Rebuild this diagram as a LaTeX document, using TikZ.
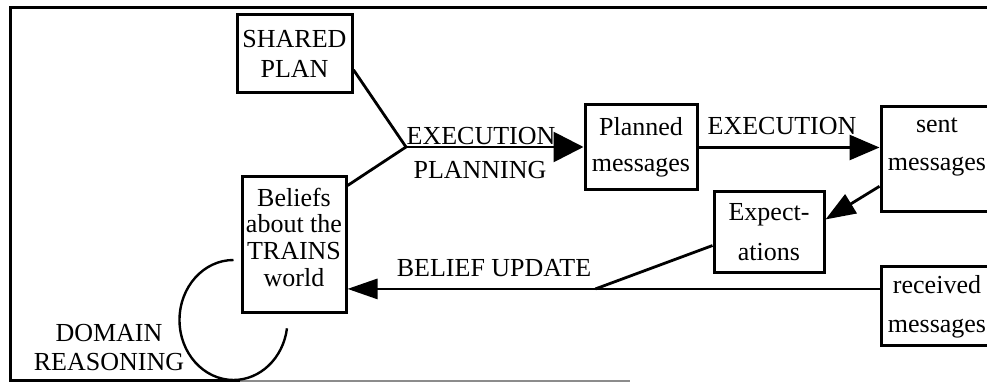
\documentclass[tikz,border=0pt]{standalone}
\usepackage{fontspec}
\setmainfont{Liberation Serif}
\usetikzlibrary{arrows.meta,calc}
\tikzset{
  msgbox/.style={rectangle,draw,line width=1.5pt,align=center,inner sep=0pt,
    font=\fontsize{13}{19}\selectfont},
  steplabel/.style={inner sep=0pt,align=center,font=\fontsize{13}{14.5}\selectfont},
  flowline/.style={line width=1.4pt},
  bigtip/.style={-{Triangle[length=15pt,width=#1]}},
  bigtip/.default=13pt
}

\begin{document}
\begin{tikzpicture}[x=0.5pt,y=0.5pt]
  \useasboundingbox (0,0) rectangle (987,385);
  \draw[line width=1.5pt] (987,377) -- (10,377) -- (10,4) -- (240,4);
  \draw[line width=1.2pt,black!45] (240,4) -- (630,4);

  \node[msgbox,minimum width=57.5pt,minimum height=39pt,font=\fontsize{13}{15}\selectfont]
    (plan) at (294.5,331) {SHARED\\PLAN};
  \node[msgbox,minimum width=52pt,minimum height=68pt,font=\fontsize{13}{13.3}\selectfont]
    (beliefs) at (294,140) {Beliefs\\about the\\TRAINS\\world\\[-5.3pt]\mbox{}};
  \node[msgbox,minimum width=56pt,minimum height=42.5pt,font=\fontsize{13}{18}\selectfont]
    (planned) at (641,237.5) {Planned\\messages};
  \node[msgbox,minimum width=56pt,minimum height=52.5pt]
    (sent) at (937,225.5) {sent\\messages\\[-4pt]\mbox{}};
  \node[msgbox,minimum width=55pt,minimum height=40.5pt,font=\fontsize{13}{20}\selectfont]
    (expect) at (769,152.5) {Expect-\\ations};
  \node[msgbox,minimum width=56pt,minimum height=39.5pt,font=\fontsize{13}{19.5}\selectfont]
    (received) at (937,78.5) {received\\messages};

  \coordinate (merge) at (406,238);
  \draw[flowline] (plan.-15) -- (merge);
  \draw[flowline] (beliefs.48) -- (merge);
  \draw[flowline,bigtip=15pt] (merge) -- (merge -| planned.west);
  \draw[flowline,bigtip=12.5pt] (planned.east) -- (planned.east -| sent.west);
  \draw[flowline,bigtip=11pt] (sent.205) -- (expect.13);
  \draw[flowline,bigtip=10pt] (received.163) -- coordinate[pos=0.534] (split)
    (received.163 -| beliefs.east);
  \draw[flowline] (expect.193) -- (split);
  \draw[line width=1.2pt] ([shift={(-7,-15)}]beliefs.west)
    arc[start angle=90,end angle=352,x radius=27pt,y radius=30pt];

  \node[steplabel] (execplan) at (481,249) {EXECUTION};
  \node[steplabel] (planning) at (480,215) {PLANNING};
  \node[steplabel] (execsend) at (782,259) {EXECUTION};
  \node[steplabel] (update) at (494,117) {BELIEF UPDATE};
  \node[steplabel] (domain) at (109,37.5) {DOMAIN\\REASONING};
\end{tikzpicture}
\end{document}
